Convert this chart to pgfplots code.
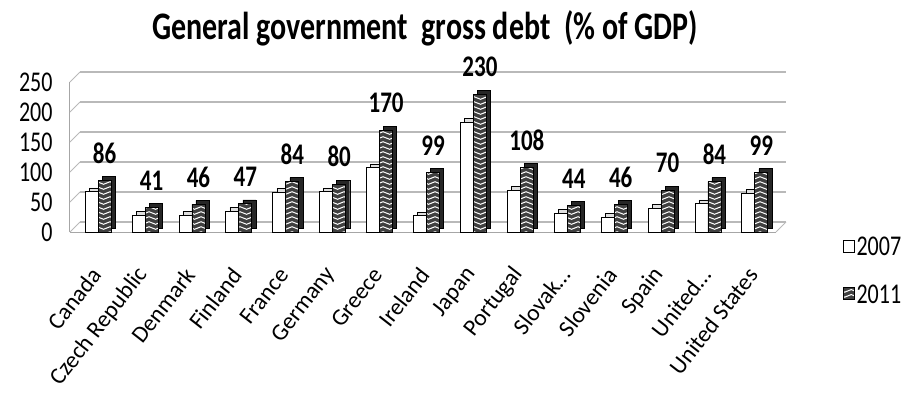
\documentclass[border=0pt]{standalone}
\usepackage{pgfplots}
\pgfplotsset{compat=1.18}
\usepackage{pgfplotstable}
\usepackage{fontspec}
\setmainfont{Carlito}
\usetikzlibrary{patterns.meta}

\tikzdeclarepattern{
  name=chev,
  type=uncolored,
  bottom left={(0pt,0pt)},
  top right={(13pt,4.5pt)},
  tile size={(13pt,4.5pt)},
  code={
    \draw[line width=1.1pt] (-1pt,0.6pt) -- (6.5pt,3.6pt) -- (14pt,0.6pt);
  }
}

\pgfplotstableread{
idx y07 y11
0  67  86
1  28  41
2  28  46
3  35  47
4  66  84
5  67  80
6  107 170
7  27  99
8  183 230
9  70  108
10 31  44
11 25  46
12 40  70
13 47  84
14 64  99
}\debt

\begin{document}
\begin{tikzpicture}
\useasboundingbox (-70pt,-183pt) rectangle (843pt,232pt);
\begin{axis}[
  at={(0pt,0pt)}, anchor=south west,
  scale only axis, width=706pt, height=150pt,
  xmin=-0.6, xmax=14.45, ymin=0, ymax=250,
  ytick={0,50,100,150,200,250},
  xtick={0,...,14},
  xticklabels={Canada, Czech Republic, Denmark, Finland, France, Germany, Greece, Ireland, Japan, Portugal, Slovak…, Slovenia, Spain, United…, United States},
  axis x line*=bottom, axis y line*=left,
  axis line style={gray!70, line width=1pt, -},
  major tick length=0pt,
  ymajorgrids,
  major grid style={gray!55, line width=1.4pt, xshift=10pt, yshift=10pt},
  /pgf/number format/assume math mode=true,
  yticklabel style={font=\fontsize{22}{24}\selectfont, yscale=1.3, anchor=east},
  yticklabel shift=14pt,
  xticklabel style={font=\fontsize{23.5}{25}\selectfont, rotate=52, anchor=east},
  xticklabel shift=36pt,
  ybar, bar width=13pt,
  legend image code/.code={\draw[#1] (0pt,-5pt) rectangle (11pt,7pt);},
  legend style={at={(1.09,0.0)}, anchor=north west, draw=none, fill=none,
    font=\fontsize{22}{24}\selectfont, row sep=22pt, nodes={yscale=1.3},
    cells={anchor=west}},
  clip=false,
]
\addplot[forget plot, fill=gray!25, draw=black, bar shift=-6.5pt, xshift=4pt, yshift=4pt] table[x=idx,y=y07]{\debt};
\addplot[fill=white, draw=black, line width=0.8pt, bar shift=-6.5pt] table[x=idx,y=y07]{\debt};
\addplot[forget plot, fill=black!85, draw=black, bar shift=6.5pt, xshift=4pt, yshift=4pt] table[x=idx,y=y11]{\debt};
\addplot[fill=black!75, draw=black, line width=0.8pt, postaction={pattern=chev, pattern color=white}, bar shift=6.5pt,
  nodes near coords,
  nodes near coords style={font=\fontsize{23}{25}\selectfont\bfseries, yshift=12pt, yscale=1.3, anchor=south, text=black}] table[x=idx,y=y11]{\debt};
\legend{2007,2011}
\draw[gray!55, line width=1pt] (axis cs:-0.6,0) -- ++(10pt,10pt);
\draw[gray!55, line width=1pt] (axis cs:-0.6,50) -- ++(10pt,10pt);
\draw[gray!55, line width=1pt] (axis cs:-0.6,100) -- ++(10pt,10pt);
\draw[gray!55, line width=1pt] (axis cs:-0.6,150) -- ++(10pt,10pt);
\draw[gray!55, line width=1pt] (axis cs:-0.6,200) -- ++(10pt,10pt);
\draw[gray!55, line width=1pt] (axis cs:-0.6,250) -- ++(10pt,10pt);
\draw[gray!55, line width=1pt] (axis cs:14.45,0) -- ++(10pt,10pt);
\end{axis}
\node[font=\fontsize{30}{34}\selectfont\bfseries, yscale=1.3, anchor=base] at (355pt,192pt) {General government\ \ gross debt\ \ (\% of GDP)};
\end{tikzpicture}
\end{document}
